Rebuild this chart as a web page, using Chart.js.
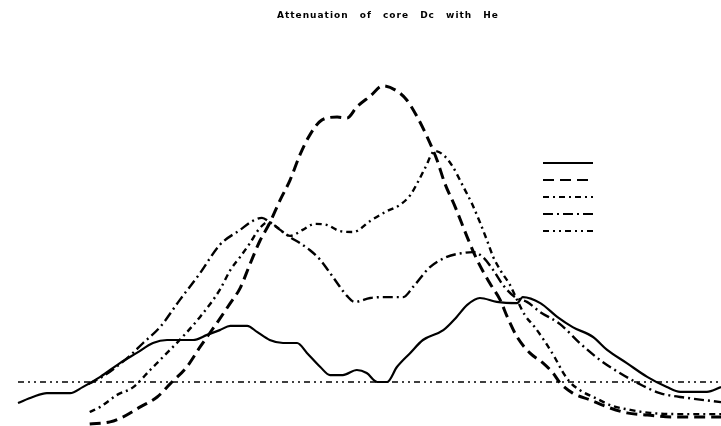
<!DOCTYPE html>
<html>
<head>
<meta charset="utf-8">
<title>Attenuation of core Dc with He</title>
<script src="https://cdn.jsdelivr.net/npm/chart.js@4"></script>
<style>
    html, body { margin: 0; padding: 0; background: #fff; }
    #wrap { width: 721px; height: 426px; }
</style>
</head>
<body>
<div id="wrap"><canvas id="chart" width="721" height="426"></canvas></div>
<script>
// position along the core (0..100) and attenuation for each run
const solidX = [0, 2.1, 4.1, 7.4, 9.2, 11.7, 14.5, 16.9, 19.2, 21.2, 24.9, 26.9, 28.7, 30.2, 32.6, 34.0, 35.8, 37.7, 39.7, 41.1, 43.0, 44.4, 46.2, 48.2, 49.6, 51.1, 52.5, 53.9, 55.8, 57.6, 60.5, 62.4, 63.9, 65.7, 68.1, 71.0, 71.8, 74.3, 76.7, 78.9, 81.8, 83.8, 86.6, 89.5, 92.3, 94.2, 98.0, 100];
const solidY = [-0.70, -0.50, -0.37, -0.37, -0.17, 0.17, 0.63, 0.97, 1.30, 1.40, 1.40, 1.57, 1.73, 1.87, 1.87, 1.67, 1.40, 1.30, 1.30, 0.97, 0.50, 0.23, 0.23, 0.40, 0.30, 0.00, 0.00, 0.50, 0.97, 1.40, 1.73, 2.17, 2.57, 2.80, 2.67, 2.63, 2.83, 2.63, 2.17, 1.83, 1.50, 1.07, 0.63, 0.17, -0.17, -0.33, -0.33, -0.17];

const dashX = [10.2, 13.1, 14.9, 17.4, 19.8, 21.6, 24.0, 25.9, 28.3, 30.2, 31.6, 33.0, 34.4, 35.8, 37.3, 38.7, 40.1, 41.5, 43.2, 45.4, 46.8, 48.2, 50.1, 51.9, 53.9, 55.3, 56.8, 58.2, 59.6, 60.7, 62.2, 63.9, 65.3, 67.1, 68.6, 69.6, 71.0, 72.8, 74.7, 76.1, 77.1, 78.9, 81.4, 83.8, 86.6, 89.5, 93.2, 100];
const dashY = [-1.40, -1.33, -1.17, -0.83, -0.50, -0.07, 0.50, 1.17, 1.97, 2.63, 3.13, 3.93, 4.70, 5.30, 6.07, 6.73, 7.57, 8.23, 8.73, 8.83, 8.80, 9.17, 9.53, 9.87, 9.70, 9.40, 8.83, 8.17, 7.40, 6.63, 5.83, 4.83, 4.07, 3.30, 2.73, 2.17, 1.50, 0.97, 0.63, 0.30, -0.03, -0.37, -0.60, -0.83, -1.03, -1.10, -1.17, -1.17];

const dashDotX = [10.2, 11.7, 14.1, 16.4, 18.8, 21.2, 23.0, 25.9, 28.7, 30.2, 31.6, 33.0, 34.4, 35.6, 36.8, 38.7, 40.5, 42.2, 44.0, 45.8, 47.7, 50.1, 52.5, 54.3, 55.8, 56.8, 57.9, 59.3, 60.5, 61.7, 63.3, 64.6, 65.7, 66.7, 67.6, 68.6, 70.0, 71.0, 72.1, 73.5, 75.0, 76.4, 77.5, 78.5, 79.9, 82.1, 84.6, 87.1, 89.9, 94.2, 100];
const dashDotY = [-1.00, -0.83, -0.43, -0.17, 0.40, 0.97, 1.40, 2.17, 3.07, 3.73, 4.17, 4.63, 5.13, 5.33, 5.17, 4.87, 5.07, 5.27, 5.23, 5.03, 5.00, 5.37, 5.70, 5.90, 6.23, 6.63, 7.13, 7.70, 7.57, 7.23, 6.53, 5.93, 5.33, 4.73, 4.17, 3.73, 3.23, 2.73, 2.23, 1.83, 1.33, 0.80, 0.33, 0.00, -0.27, -0.53, -0.80, -0.93, -1.03, -1.07, -1.07];

const longDashX = [10.0, 11.7, 13.8, 15.9, 17.8, 20.2, 23.0, 25.9, 28.7, 31.6, 33.4, 34.7, 35.8, 37.3, 38.7, 40.1, 41.5, 43.0, 44.1, 45.4, 46.8, 47.9, 50.1, 52.5, 54.8, 56.2, 58.6, 61.0, 63.3, 64.7, 66.1, 67.6, 69.0, 70.7, 72.4, 74.3, 77.1, 79.9, 82.8, 85.6, 88.1, 91.3, 95.2, 100];
const longDashY = [-0.07, 0.13, 0.47, 0.87, 1.30, 1.83, 2.73, 3.63, 4.57, 5.07, 5.37, 5.47, 5.33, 5.07, 4.83, 4.63, 4.40, 4.07, 3.73, 3.30, 2.87, 2.67, 2.80, 2.83, 2.83, 3.17, 3.83, 4.17, 4.30, 4.33, 4.17, 3.73, 3.23, 2.83, 2.67, 2.33, 1.93, 1.30, 0.73, 0.30, -0.03, -0.37, -0.53, -0.67];

const baseX = [0, 100];
const baseY = [0, 0];

const pts = (xs, ys) => xs.map((x, i) => ({ x, y: ys[i] }));

function series(xs, ys, width, dash) {
    return {
        data: pts(xs, ys),
        borderColor: '#000',
        borderWidth: width,
        borderDash: dash,
        pointRadius: 0,
        fill: false,
        cubicInterpolationMode: 'monotone',
        clip: false
    };
}

// title and line-key are drawn by hand
const overlay = {
    id: 'overlay',
    afterDraw(chart) {
        const ctx = chart.ctx;
        ctx.save();
        ctx.fillStyle = '#000';
        ctx.font = 'bold 9px "DejaVu Sans"';
        ctx.letterSpacing = '1px';
        ctx.wordSpacing = '7px';
        ctx.textAlign = 'center';
        ctx.textBaseline = 'middle';
        ctx.fillText('Attenuation of core Dc with He', 388, 16);

        chart.data.datasets.forEach((ds, i) => {
            const y = 163 + i * 17;
            ctx.beginPath();
            ctx.lineWidth = 2;
            ctx.strokeStyle = '#000';
            ctx.setLineDash(ds.borderDash || []);
            ctx.moveTo(543, y);
            ctx.lineTo(593, y);
            ctx.stroke();
        });
        ctx.restore();
    }
};

new Chart(document.getElementById('chart'), {
    type: 'line',
    data: {
        datasets: [
            series(solidX, solidY, 2.2, []),
            series(dashX, dashY, 3, [11, 6]),
            series(dashDotX, dashDotY, 2.4, [6, 4, 2, 4]),
            series(longDashX, longDashY, 2.4, [10, 4, 2, 4]),
            series(baseX, baseY, 1.4, [6, 4, 2, 4, 2, 4])
        ]
    },
    options: {
        responsive: false,
        animation: false,
        devicePixelRatio: 1,
        layout: { padding: { left: 18, right: 0, top: 40, bottom: 2 } },
        plugins: {
            legend: { display: false },
            title: { display: false },
            tooltip: { enabled: false }
        },
        scales: {
            x: { type: 'linear', min: 0, max: 100, display: false },
            y: { min: -1.4, max: 11.4, display: false }
        }
    },
    plugins: [overlay]
});
</script>
</body>
</html>
